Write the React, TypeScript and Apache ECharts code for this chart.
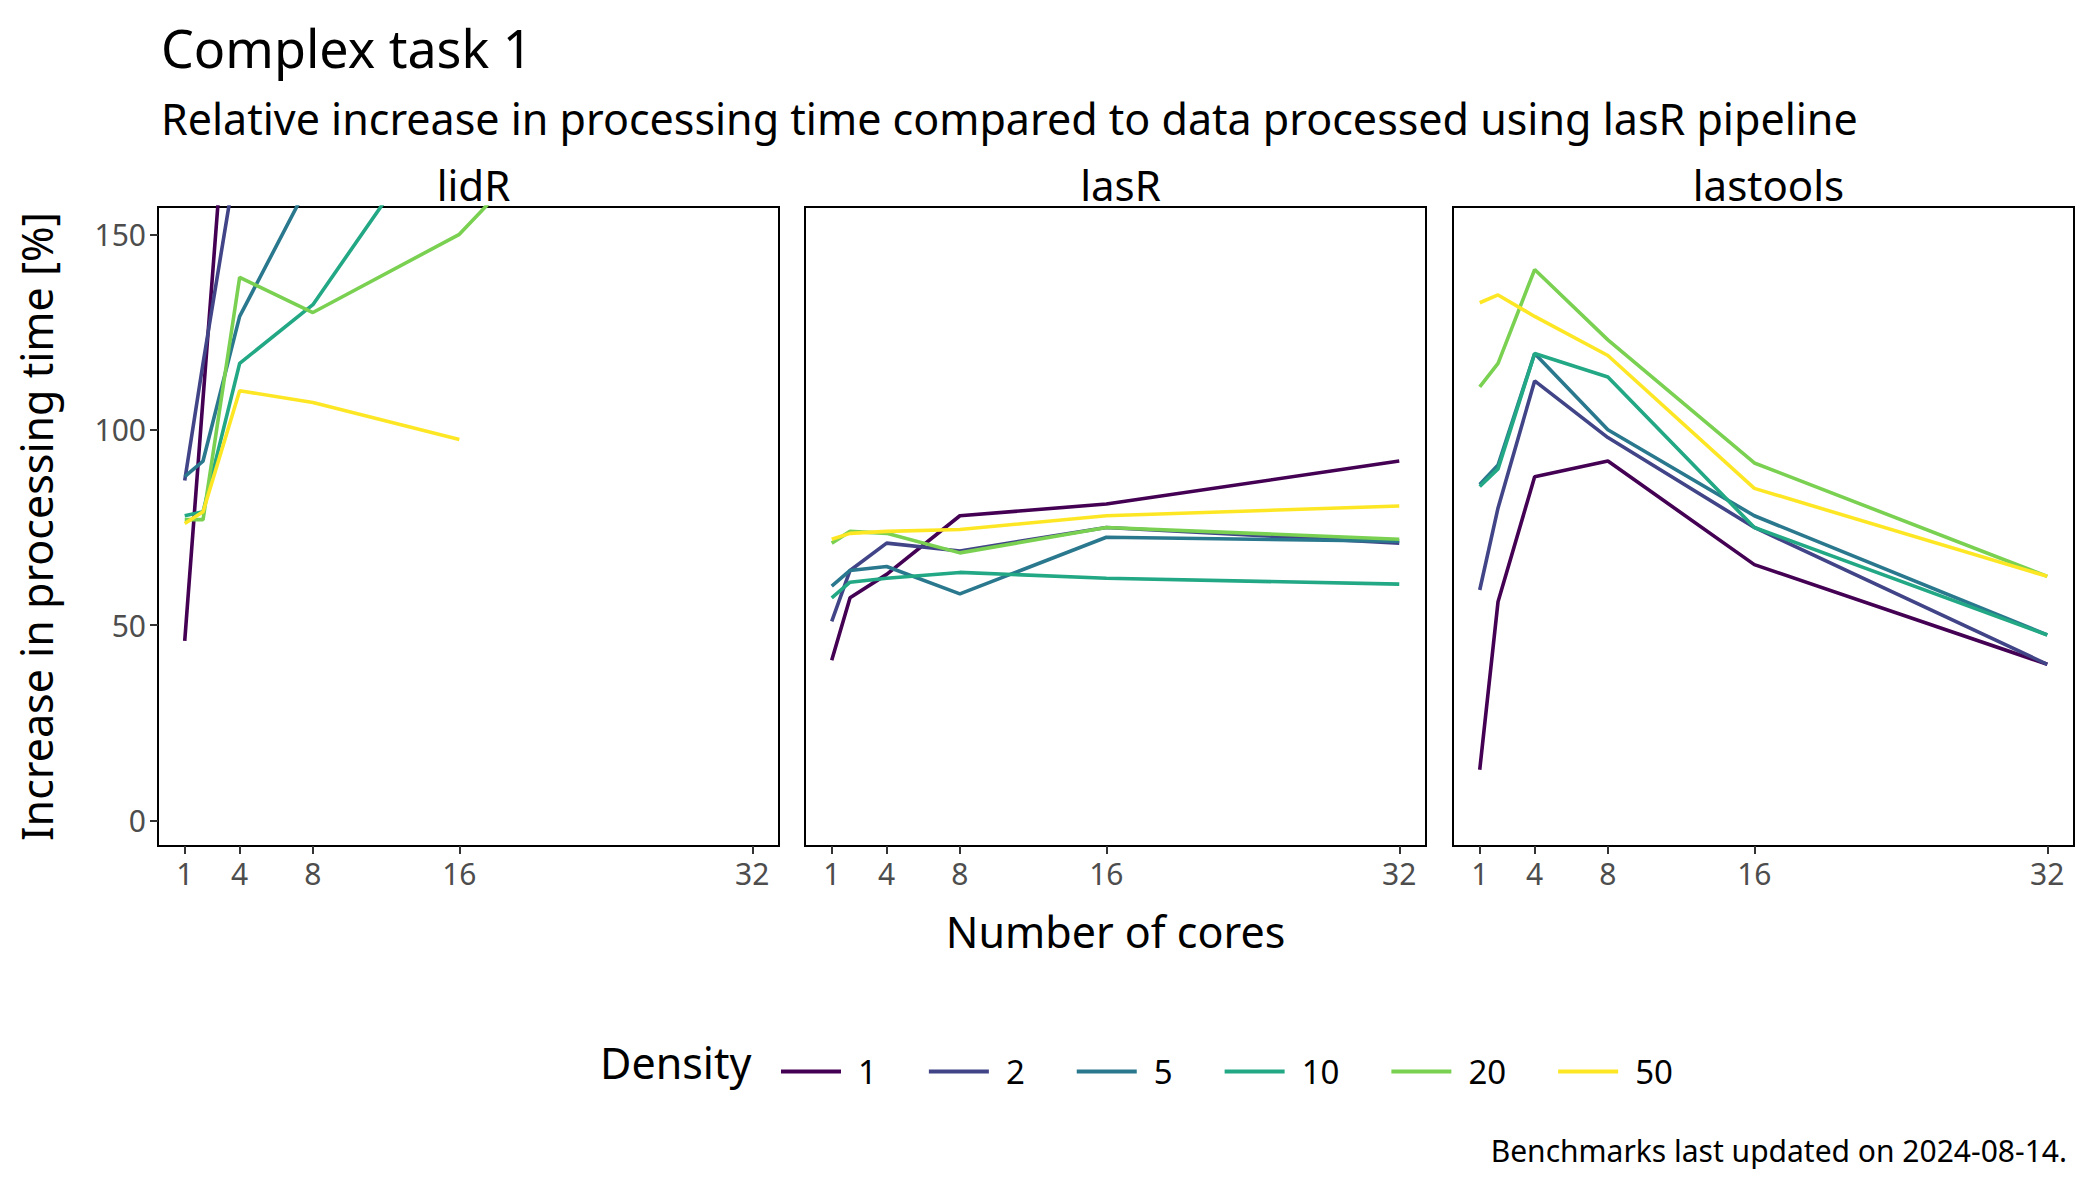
import { useEffect, useRef } from 'react';
import * as echarts from 'echarts';

const cores = [1, 2, 4, 8, 16, 32];
const densities = ['1', '2', '5', '10', '20', '50'];
const colors = ['#440154', '#414487', '#2A788E', '#22A884', '#7AD151', '#FDE725'];
const panels = ['lidR', 'lasR', 'lastools'];
const xTicks = [1, 4, 8, 16, 32];
const yTicks = [0, 50, 100, 150];

// values per panel, per density, per core count (null = no run)
const lidR = [
  [46, 108, 230, 300, 350, 400],
  [87, 117, 174, 250, 300, 350],
  [88, 92, 129, 165, 220, 280],
  [78, 79, 117, 132, 186, 250],
  [77, 77, 139, 130, 150, 229],
  [76, 79, 110, 107, 97.5, null],
];
const lasR = [
  [41, 57, 63, 78, 81, 92],
  [51, 64, 71, 69, 75, 71],
  [60, 64, 65, 58, 72.5, 71.5],
  [57, 61, 62, 63.5, 62, 60.5],
  [71, 74, 73.5, 68.5, 75, 72],
  [72, 73.5, 74, 74.5, 78, 80.5],
];
const lastools = [
  [13, 56, 88, 92, 65.5, 40],
  [59, 80, 112.5, 98, 75, 40],
  [86, 91, 119.5, 100, 78, 47.5],
  [85.5, 90, 119.5, 113.5, 75, 47.5],
  [111, 117, 141, 123, 91.5, 62.5],
  [132.5, 134.5, 129, 119, 85, 62.5],
];
const panelData = [lidR, lasR, lastools];

const FONT = '"Noto Sans", "Open Sans", sans-serif';

export default function App() {
  const ref = useRef<HTMLDivElement>(null);

  useEffect(() => {
    if (!ref.current) return;
    const chart = echarts.init(ref.current, undefined, { renderer: 'svg' });

    const lefts = [150, 797, 1445];
    const width = 621;
    const grids = lefts.map((left) => ({
      left,
      width,
      top: 199,
      height: 639,
      show: true,
      borderColor: '#000',
      borderWidth: 2,
      backgroundColor: '#fff',
    }));

    const xAxes = panels.map((_, i) => ({
      type: 'value' as const,
      gridIndex: i,
      min: -0.46,
      max: 33.46,
      axisLine: { show: false, onZero: false },
      axisTick: { show: true, length: 8, lineStyle: { color: '#333', width: 2 }, customValues: xTicks },
      axisLabel: { color: '#4d4d4d', fontSize: 30, fontFamily: FONT, margin: 12, customValues: xTicks },
      splitLine: { show: false },
      name: i === 1 ? 'Number of cores' : '',
      nameLocation: 'middle' as const,
      nameGap: 64,
      nameTextStyle: { color: '#000', fontSize: 43, fontFamily: FONT },
    }));

    const yAxes = panels.map((_, i) => ({
      type: 'value' as const,
      gridIndex: i,
      min: -6.5,
      max: 157,
      axisLine: { show: false, onZero: false },
      axisTick: { show: i === 0, length: 8, lineStyle: { color: '#333', width: 2 }, customValues: yTicks },
      axisLabel: { show: i === 0, color: '#4d4d4d', fontSize: 30, fontFamily: FONT, margin: 12, customValues: yTicks },
      splitLine: { show: false },
      name: i === 0 ? 'Increase in processing time [%]' : '',
      nameLocation: 'middle' as const,
      nameGap: 100,
      nameTextStyle: { color: '#000', fontSize: 43, fontFamily: FONT },
    }));

    const series: any[] = [];
    panelData.forEach((pd, p) => {
      pd.forEach((vals, d) => {
        series.push({
          type: 'line',
          name: densities[d],
          xAxisIndex: p,
          yAxisIndex: p,
          data: cores.map((c, k) => (vals[k] == null ? null : [c, vals[k]])).filter((v) => v),
          symbol: 'none',
          clip: true,
          lineStyle: { color: colors[d], width: 3.6 },
          itemStyle: { color: colors[d] },
        });
      });
    });

    chart.setOption({
      animation: false,
      backgroundColor: '#fff',
      grid: grids,
      xAxis: xAxes,
      yAxis: yAxes,
      series,
      title: [
        { text: 'Complex task 1', left: 148, top: 8, textStyle: { fontSize: 52, fontWeight: 'normal', color: '#000', fontFamily: FONT } },
        {
          text: 'Relative increase in processing time compared to data processed using lasR pipeline',
          left: 148, top: 84,
          textStyle: { fontSize: 43, fontWeight: 'normal', color: '#000', fontFamily: FONT },
        },
        ...panels.map((t, i) => ({
          text: t,
          left: lefts[i] + width / 2,
          textAlign: 'center' as const,
          top: 150,
          textStyle: { fontSize: 42, fontWeight: 'normal' as const, color: '#000', fontFamily: FONT },
        })),
        {
          text: 'Benchmarks last updated on 2024-08-14.',
          right: 20, top: 1122,
          textStyle: { fontSize: 30, fontWeight: 'normal', color: '#000', fontFamily: FONT },
        },
      ],
      legend: {
        data: densities.map((d, i) => ({ name: d, itemStyle: { color: colors[i] } })),
        left: 768,
        top: 1042,
        icon: 'rect',
        itemWidth: 60,
        itemHeight: 4,
        itemGap: 52,
        textStyle: { fontSize: 33, color: '#000', fontFamily: FONT, padding: [0, 0, 0, 12] },
      },
      graphic: [
        {
          type: 'text',
          left: 592,
          top: 1033,
          style: { text: 'Density', fontSize: 43, fill: '#000', fontFamily: FONT },
        },
      ],
    });

    return () => chart.dispose();
  }, []);

  return <div ref={ref} style={{ width: 2084, height: 1184 }} />;
}
